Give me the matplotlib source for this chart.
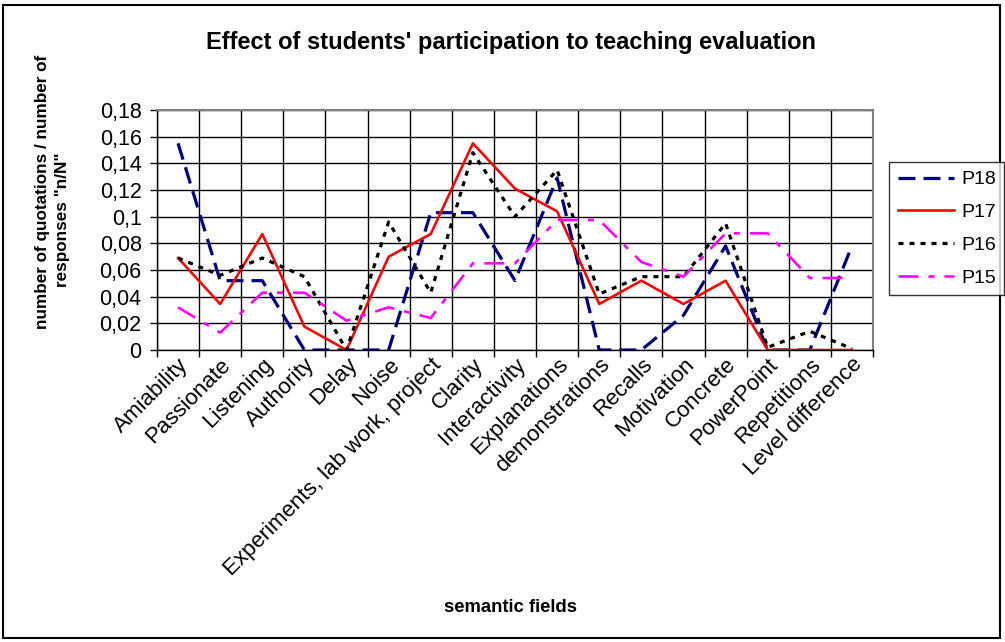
import matplotlib
matplotlib.use("Agg")
import matplotlib.pyplot as plt
from matplotlib.patches import Rectangle
from matplotlib.ticker import FuncFormatter, MultipleLocator

plt.rcParams['font.family'] = ['Liberation Sans', 'DejaVu Sans']
plt.rcParams['lines.scale_dashes'] = False

categories = ["Amiability", "Passionate", "Listening", "Authority", "Delay", "Noise",
              "Experiments, lab work, project", "Clarity", "Interactivity", "Explanations",
              "demonstrations", "Recalls", "Motivation", "Concrete", "PowerPoint",
              "Repetitions", "Level difference"]
P18 = [0.155, 0.052, 0.052, 0, 0, 0, 0.103, 0.103, 0.052, 0.129, 0, 0, 0.026, 0.078, 0, 0, 0.078]
P17 = [0.069, 0.0345, 0.087, 0.0175, 0, 0.070, 0.087, 0.155, 0.121, 0.104, 0.0345, 0.052, 0.0345, 0.052, 0, 0, 0]
P16 = [0.069, 0.056, 0.069, 0.055, 0, 0.096, 0.043, 0.148, 0.100, 0.135, 0.042, 0.055, 0.055, 0.095, 0.002, 0.014, 0.001]
P15 = [0.032, 0.013, 0.043, 0.043, 0.022, 0.032, 0.024, 0.065, 0.065, 0.0975, 0.0975, 0.066, 0.055, 0.0875, 0.0875, 0.054, 0.054]
series_names = ["P18", "P17", "P16", "P15"]

W, H = 1005, 642
fig = plt.figure(figsize=(W / 100, H / 100), dpi=100)
ax = fig.add_axes([157 / W, 1 - 350 / H, (873 - 157) / W, (350 - 110) / H])

x = list(range(len(categories)))
px = 0.72  # points per pixel
ax.plot(x, P18, color='#000080', lw=3.2 * px, dashes=(17 * px, 8 * px), label=series_names[0], dash_capstyle='butt')
ax.plot(x, P17, color='#FF0000', lw=2.6 * px, label=series_names[1])
ax.plot(x, P16, color='black', lw=3.2 * px, dashes=(5 * px, 6 * px), label=series_names[2], dash_capstyle='butt')
ax.plot(x, P15, color='#FF00FF', lw=2.6 * px, dashes=(20 * px, 10 * px, 6 * px, 10 * px), label=series_names[3], dash_capstyle='butt')

ax.set_xlim(-0.5, len(categories) - 0.5)
ax.set_ylim(0, 0.18)
ax.yaxis.set_major_locator(MultipleLocator(0.02))
ax.yaxis.set_major_formatter(FuncFormatter(lambda v, p: ("%g" % round(v, 2)).replace('.', ',')))
ax.set_xticks([i - 0.5 for i in range(len(categories) + 1)])
ax.set_xticklabels([])
ax.set_xticks(x, minor=True)
ax.tick_params(axis='x', which='minor', length=0)
ax.set_xticklabels(categories, minor=True, rotation=45, ha='right', va='top',
                   rotation_mode='anchor', fontsize=16)
ax.tick_params(axis='x', which='minor', pad=3)
ax.tick_params(axis='x', which='major', length=5, width=1, color='black')
ax.tick_params(axis='y', length=5, width=1, labelsize=15.5, pad=6)
ax.grid(True, which='major', color='black', lw=1)
ax.set_axisbelow(True)
for s in ['top', 'right']:
    ax.spines[s].set_color('#808080')
    ax.spines[s].set_linewidth(1.5)
for s in ['left', 'bottom']:
    ax.spines[s].set_color('black')
    ax.spines[s].set_linewidth(1)

fig.text(511 / W, 1 - 43 / H, "Effect of students' participation to teaching evaluation",
         ha='center', va='center', fontsize=17, fontweight='bold')
fig.text(43 / W, 1 - 192 / H, "number of quotations / number of", rotation=90,
         ha='center', va='center', fontsize=12.3, fontweight='bold')
fig.text(62 / W, 1 - 220 / H, 'responses "n/N"', rotation=90,
         ha='center', va='center', fontsize=12.3, fontweight='bold')
fig.text(510 / W, 1 - 608 / H, "semantic fields", ha='center', va='center',
         fontsize=13.3, fontweight='bold')

leg = fig.legend(loc='upper left', bbox_to_anchor=(889 / W, 1 - 162 / H), fontsize=14,
                 frameon=True, fancybox=False, edgecolor='black', handlelength=2.9,
                 labelspacing=0.78, borderpad=0.45, handletextpad=0.35, borderaxespad=0)
leg.get_frame().set_linewidth(1)

fig.patches.append(Rectangle((3 / W, 4 / H), (1000 - 3) / W, (637 - 4) / H, transform=fig.transFigure,
                             fill=False, edgecolor='black', lw=1.5))

fig.savefig("out.png", dpi=100)
